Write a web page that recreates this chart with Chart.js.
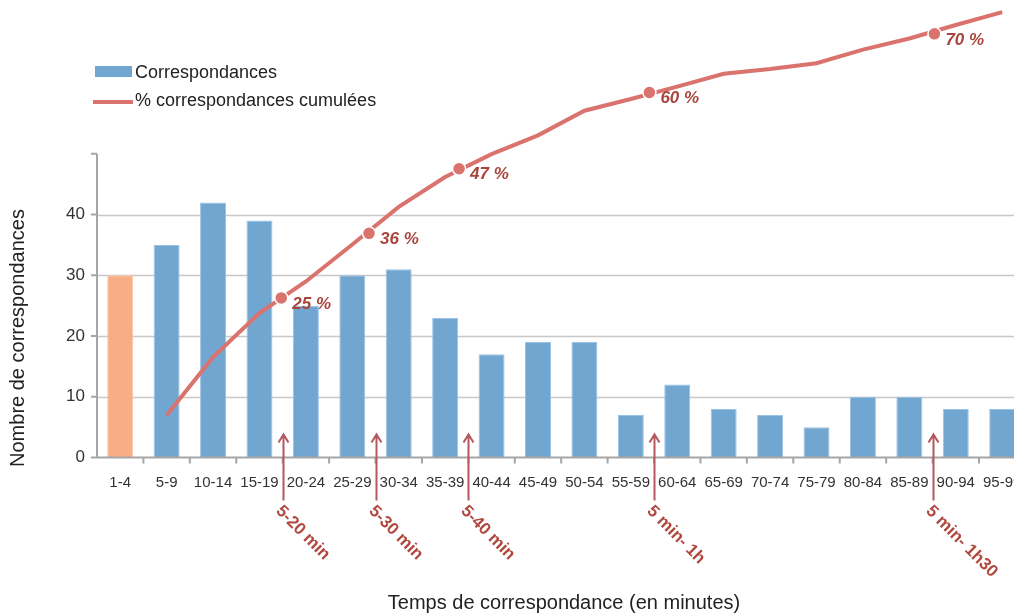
<!DOCTYPE html>
<html>
<head>
<meta charset="utf-8">
<script src="https://cdn.jsdelivr.net/npm/chart.js@4.4.1/dist/chart.umd.min.js"></script>
<style>
  html, body { margin: 0; padding: 0; background: #fff; overflow: hidden; }
  #wrap { position: relative; width: 1040px; height: 613px; }
</style>
</head>
<body>
<div id="wrap"><canvas id="chart"></canvas></div>
<script>
// ── Data ──
const categories = ['1-4','5-9','10-14','15-19','20-24','25-29','30-34','35-39','40-44','45-49',
                    '50-54','55-59','60-64','65-69','70-74','75-79','80-84','85-89','90-94','95-99'];
const counts     = [30, 35, 42, 39, 25, 30, 31, 23, 17, 19, 19, 7, 12, 8, 7, 5, 10, 10, 8, 8];
const cumulPct   = [null, 5.0, 14.9, 22.4, 27.8, 34.1, 40.5, 45.6, 49.5, 52.7,
                    56.9, 58.9, 61.0, 63.2, 64.0, 65.0, 67.3, 69.2, 71.5, 73.7];
const markerPos  = [3.47, 5.36, 7.3, 11.4, 17.54];
const markerPct  = [25, 36, 47, 60, 70];
const arrowPos   = [3.5, 5.5, 7.5, 11.5, 17.5];
const arrowText  = ['5-20 min', '5-30 min', '5-40 min', '5 min- 1h', '5 min- 1h30'];
const yTicks     = [0, 10, 20, 30, 40, 50];
const yTickText  = ['0', '10', '20', '30', '40', ''];

const BLUE = '#71a6d0', ORANGE = '#f8ad84', RED = '#da726d';
const FONT = '"Liberation Sans", Arial, sans-serif';

// ── Axes, labels, legend, annotations ──
const decor = {
  id: 'decor',
  beforeDatasetsDraw(chart) {
    const {ctx, chartArea: a, scales: {y}} = chart;
    ctx.save();
    ctx.strokeStyle = '#c8c8c8';
    ctx.lineWidth = 1.5;
    yTicks.slice(1, -1).forEach(v => {
      const py = Math.round(y.getPixelForValue(v)) + 0.5;
      ctx.beginPath(); ctx.moveTo(a.left, py); ctx.lineTo(a.right, py); ctx.stroke();
    });
    ctx.restore();
  },
  afterDatasetsDraw(chart) {
    const {ctx, chartArea: a, scales: {x, xl, y, y2}} = chart;
    const y0 = y.getPixelForValue(0);
    ctx.save();
    // axis lines + tick marks
    ctx.strokeStyle = '#a6a6a6';
    ctx.lineWidth = 2;
    ctx.beginPath();
    ctx.moveTo(a.left, y.getPixelForValue(50)); ctx.lineTo(a.left, y0);
    ctx.moveTo(a.left - 5, y0); ctx.lineTo(a.right, y0);
    yTicks.forEach(v => { const py = y.getPixelForValue(v); ctx.moveTo(a.left - 6, py); ctx.lineTo(a.left, py); });
    categories.forEach((c, i) => { if (i > 0) { const px = xl.getPixelForValue(i - 0.5); ctx.moveTo(px, y0); ctx.lineTo(px, y0 + 6); } });
    ctx.stroke();

    // y tick labels
    ctx.fillStyle = '#333';
    ctx.font = '17px ' + FONT;
    ctx.textAlign = 'right'; ctx.textBaseline = 'middle';
    yTicks.forEach((v, i) => ctx.fillText(yTickText[i], a.left - 12, y.getPixelForValue(v)));

    // x tick labels
    ctx.font = '15px ' + FONT;
    ctx.textAlign = 'center';
    categories.forEach((c, i) => ctx.fillText(c, x.getPixelForValue(i), y0 + 25));

    // axis titles
    ctx.fillStyle = '#222';
    ctx.font = '20px ' + FONT;
    ctx.fillText('Temps de correspondance (en minutes)', 564, 603);
    ctx.save();
    ctx.translate(18, 338); ctx.rotate(-Math.PI / 2);
    ctx.fillText('Nombre de correspondances', 0, 0);
    ctx.restore();

    // legend
    ctx.fillStyle = BLUE;
    ctx.fillRect(95, 66, 37, 11);
    ctx.strokeStyle = RED; ctx.lineWidth = 4;
    ctx.beginPath(); ctx.moveTo(93, 102); ctx.lineTo(133, 102); ctx.stroke();
    ctx.fillStyle = '#222';
    ctx.font = '18px ' + FONT;
    ctx.textAlign = 'left';
    ctx.fillText('Correspondances', 135, 73);
    ctx.fillText('% correspondances cumulées', 135, 101);

    // arrows under the axis
    ctx.strokeStyle = '#b4575f'; ctx.lineWidth = 2;
    ctx.fillStyle = '#b0483f';
    ctx.font = 'bold 17px ' + FONT;
    ctx.textBaseline = 'top';
    arrowPos.forEach((p, i) => {
      const px = Math.round(xl.getPixelForValue(p)) + 0.5;
      const top = y0 - 23, bot = y0 + 43;
      ctx.beginPath();
      ctx.moveTo(px, top); ctx.lineTo(px, bot);
      ctx.moveTo(px - 5, top + 8); ctx.lineTo(px, top); ctx.lineTo(px + 5, top + 8);
      ctx.stroke();
      ctx.save();
      ctx.translate(px + 1, bot + 2); ctx.rotate(Math.PI / 4);
      ctx.fillText(arrowText[i], 0, 0);
      ctx.restore();
    });

    // percent labels next to markers
    ctx.fillStyle = '#a8463d';
    ctx.font = 'italic bold 17px ' + FONT;
    ctx.textBaseline = 'middle';
    markerPos.forEach((p, i) => {
      ctx.fillText(markerPct[i] + ' %', xl.getPixelForValue(p) + 11, y2.getPixelForValue(markerPct[i]) + 6);
    });
    ctx.restore();
  }
};

new Chart(document.getElementById('chart').getContext('2d'), {
  data: {
    labels: categories,
    datasets: [
      { type: 'scatter', label: 'marks', xAxisID: 'xl', yAxisID: 'y2', order: 1,
        data: markerPos.map((p, i) => ({x: p, y: markerPct[i]})),
        pointRadius: 6.5, pointBackgroundColor: RED, pointBorderColor: '#fff', pointBorderWidth: 1.5 },
      { type: 'line', label: '% correspondances cumulées', xAxisID: 'xl', yAxisID: 'y2', order: 2,
        data: cumulPct.map((v, i) => v == null ? null : {x: i, y: v}).filter(Boolean),
        borderColor: RED, borderWidth: 4, pointRadius: 0, tension: 0, fill: false },
      { type: 'bar', label: 'Correspondances', xAxisID: 'x', yAxisID: 'y', order: 3,
        data: counts,
        backgroundColor: counts.map((v, i) => i === 0 ? ORANGE : BLUE),
        borderColor: counts.map((v, i) => i === 0 ? '#fbc6a8' : '#9cc2e2'),
        borderWidth: 1, grouped: false,
        barPercentage: 0.56, categoryPercentage: 1 }
    ]
  },
  options: {
    responsive: true,
    maintainAspectRatio: false,
    animation: false,
    layout: { padding: { left: 97, right: 14.6, top: 5, bottom: 155.5 } },
    plugins: { legend: { display: false }, tooltip: { enabled: false } },
    scales: {
      x:  { type: 'category', offset: true, display: false },
      xl: { type: 'linear', min: -0.5, max: 19.5, display: false },
      y:  { min: 0, max: 74, display: false },
      y2: { min: -2.2, max: 74.4, display: false }
    }
  },
  plugins: [decor]
});
</script>
</body>
</html>
